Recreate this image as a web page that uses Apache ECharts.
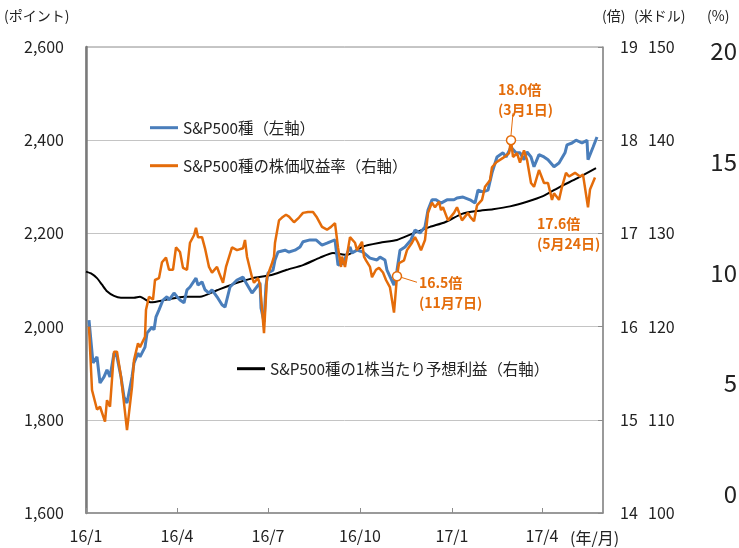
<!DOCTYPE html>
<html>
<head>
<meta charset="utf-8">
<script src="https://cdn.jsdelivr.net/npm/echarts@6/dist/echarts.min.js"></script>
<style>
  html, body { margin: 0; padding: 0; background: #fff; }
  #chart { width: 739px; height: 548px; }
</style>
</head>
<body>
<div id="chart"></div>
<script>
// S&P500 (左軸)
var spxDates = ['2016-01-04','2016-01-08','2016-01-12','2016-01-15','2016-01-19','2016-01-22','2016-01-25','2016-01-29',
  '2016-02-01','2016-02-05','2016-02-08','2016-02-11','2016-02-16','2016-02-18','2016-02-22','2016-02-24','2016-02-29',
  '2016-03-02','2016-03-07','2016-03-09','2016-03-11','2016-03-14','2016-03-18','2016-03-22','2016-03-24','2016-03-29',
  '2016-04-01','2016-04-04','2016-04-08','2016-04-11','2016-04-14','2016-04-20','2016-04-22','2016-04-26','2016-04-29',
  '2016-05-03','2016-05-06','2016-05-11','2016-05-16','2016-05-19','2016-05-24','2016-05-31',
  '2016-06-06','2016-06-09','2016-06-15','2016-06-17','2016-06-23','2016-06-24','2016-06-27','2016-06-29',
  '2016-07-01','2016-07-06','2016-07-08','2016-07-11','2016-07-18','2016-07-22','2016-07-28',
  '2016-08-02','2016-08-05','2016-08-12','2016-08-18','2016-08-24','2016-08-29',
  '2016-09-01','2016-09-06','2016-09-09','2016-09-14','2016-09-21','2016-09-23','2016-09-28',
  '2016-10-04','2016-10-11','2016-10-18','2016-10-21','2016-10-26','2016-10-28',
  '2016-11-04','2016-11-07','2016-11-10','2016-11-15','2016-11-21','2016-11-25','2016-11-30',
  '2016-12-05','2016-12-08','2016-12-12','2016-12-16','2016-12-21','2016-12-27',
  '2017-01-03','2017-01-06','2017-01-12','2017-01-19','2017-01-24','2017-01-27',
  '2017-02-01','2017-02-06','2017-02-10','2017-02-15','2017-02-21','2017-02-24',
  '2017-03-01','2017-03-06','2017-03-10','2017-03-14','2017-03-17','2017-03-21','2017-03-24','2017-03-29',
  '2017-04-03','2017-04-07','2017-04-13','2017-04-18','2017-04-24','2017-04-26',
  '2017-05-01','2017-05-05','2017-05-11','2017-05-16','2017-05-17','2017-05-22','2017-05-26'];
var spxValues = [2014,1922,1935,1879,1892,1907,1892,1943,
  1935,1892,1849,1836,1892,1922,1943,1935,1956,
  1986,1999,1993,2021,2036,2057,2064,2057,2072,
  2064,2057,2051,2079,2085,2104,2089,2096,2079,
  2072,2079,2064,2047,2042,2085,2100,
  2106,2094,2072,2072,2094,2040,2010,2089,
  2115,2121,2143,2160,2164,2160,2164,
  2171,2182,2186,2186,2175,2179,
  2182,2186,2132,2136,2171,2158,2164,
  2160,2147,2143,2149,2143,2121,
  2089,2121,2164,2171,2186,2207,2201,
  2214,2250,2272,2272,2265,2272,
  2272,2276,2278,2272,2265,2293,
  2289,2293,2330,2364,2373,2364,
  2385,2373,2373,2358,2375,2364,2343,2369,
  2364,2358,2343,2351,2373,2390,
  2394,2400,2394,2400,2358,2385,2407];

// 株価収益率 (倍, 右軸)
var perDates = ['2016-01-04','2016-01-07','2016-01-12','2016-01-15','2016-01-20','2016-01-22','2016-01-25','2016-01-29',
  '2016-02-01','2016-02-05','2016-02-08','2016-02-11','2016-02-16','2016-02-18','2016-02-22','2016-02-24','2016-02-29',
  '2016-03-01','2016-03-04','2016-03-08','2016-03-10','2016-03-14','2016-03-17','2016-03-21','2016-03-24','2016-03-28','2016-03-31',
  '2016-04-04','2016-04-07','2016-04-11','2016-04-14','2016-04-18','2016-04-20','2016-04-22','2016-04-26','2016-04-29',
  '2016-05-03','2016-05-06','2016-05-11','2016-05-13','2016-05-17','2016-05-20','2016-05-26','2016-05-31',
  '2016-06-06','2016-06-08','2016-06-10','2016-06-15','2016-06-17','2016-06-21','2016-06-23','2016-06-27','2016-06-30',
  '2016-07-05','2016-07-07','2016-07-08','2016-07-12','2016-07-15','2016-07-19','2016-07-22','2016-07-27',
  '2016-08-01','2016-08-05','2016-08-10','2016-08-15','2016-08-19','2016-08-24','2016-08-29',
  '2016-09-02','2016-09-06','2016-09-09','2016-09-12','2016-09-13','2016-09-16','2016-09-21','2016-09-26','2016-09-28',
  '2016-10-03','2016-10-05','2016-10-07','2016-10-11','2016-10-13','2016-10-17','2016-10-20','2016-10-24','2016-10-27','2016-10-31',
  '2016-11-04','2016-11-07','2016-11-09','2016-11-14','2016-11-17','2016-11-22','2016-11-25','2016-11-28',
  '2016-12-01','2016-12-05','2016-12-08','2016-12-12','2016-12-15','2016-12-19','2016-12-21','2016-12-23','2016-12-28',
  '2017-01-03','2017-01-06','2017-01-11','2017-01-17','2017-01-19','2017-01-23','2017-01-26','2017-01-31',
  '2017-02-03','2017-02-08','2017-02-10','2017-02-14','2017-02-21','2017-02-27',
  '2017-03-01','2017-03-03','2017-03-07','2017-03-10','2017-03-14','2017-03-17','2017-03-21','2017-03-24','2017-03-29',
  '2017-04-03','2017-04-07','2017-04-11','2017-04-13','2017-04-18','2017-04-21','2017-04-25','2017-04-28',
  '2017-05-04','2017-05-09','2017-05-12','2017-05-17','2017-05-19','2017-05-24'];
var perValues = [16.00,15.32,15.11,15.14,14.98,15.21,15.14,15.73,
  15.73,15.46,15.18,14.89,15.35,15.64,15.82,15.78,15.89,
  16.18,16.32,16.29,16.50,16.52,16.69,16.74,16.61,16.61,16.85,
  16.80,16.63,16.61,16.90,16.98,17.06,16.96,16.96,16.84,
  16.64,16.58,16.64,16.58,16.47,16.64,16.85,16.82,
  16.84,16.93,16.75,16.53,16.47,16.52,16.45,15.93,16.53,
  16.68,16.75,16.90,17.14,17.17,17.20,17.18,17.12,
  17.17,17.22,17.23,17.23,17.17,17.07,17.04,
  17.07,17.11,16.85,16.64,16.75,16.64,16.96,16.90,16.82,
  16.91,16.75,16.71,16.64,16.53,16.61,16.63,16.58,16.50,16.42,
  16.15,16.54,16.68,16.71,16.82,16.90,16.96,16.90,
  16.82,16.93,17.22,17.33,17.28,17.34,17.25,17.28,17.14,
  17.22,17.28,17.14,17.22,17.18,17.13,17.30,17.36,
  17.50,17.57,17.71,17.76,17.81,17.86,
  18.00,17.82,17.86,17.76,17.89,17.79,17.54,17.50,17.68,
  17.54,17.54,17.36,17.43,17.36,17.50,17.65,17.61,
  17.65,17.61,17.63,17.28,17.47,17.60];

// 1株当たり予想利益 (米ドル, 右軸)
var epsDates = ['2016-01-01','2016-01-06','2016-01-12','2016-01-17','2016-01-22','2016-01-29','2016-02-05','2016-02-18','2016-02-24','2016-03-06',
  '2016-03-22','2016-04-08','2016-04-24','2016-05-11','2016-05-31','2016-06-16','2016-07-03','2016-07-20',
  '2016-08-05','2016-08-22','2016-09-04','2016-09-18','2016-10-04','2016-10-21','2016-11-07','2016-11-23',
  '2016-12-10','2016-12-25','2017-01-11','2017-01-26','2017-02-11','2017-02-28','2017-03-17','2017-04-02',
  '2017-04-19','2017-05-06','2017-05-25'];
var epsValues = [125.9,125.7,125.2,124.5,123.8,123.3,123.1,123.1,123.2,122.6,
  122.9,123.2,123.2,123.9,124.7,125.2,125.5,126.1,
  126.6,127.4,127.9,127.7,128.6,129.0,129.3,130.0,
  130.7,131.2,132.1,132.4,132.6,132.9,133.4,134.0,
  135.0,135.9,137.0];

var xTickDates = ['2016-01-01','2016-04-01','2016-07-01','2016-10-01','2017-01-01','2017-04-01'];
var xStart = '2016-01-01', xEnd = '2017-06-01';
var pctTicks = [0, 5, 10, 15, 20];

// 注記
var notes = [
  { date: '2017-03-01', value: 18.0, text: '18.0倍\n(3月1日)', marker: true },
  { date: '2016-11-07', value: 16.54, text: '16.5倍\n(11月7日)', marker: true },
  { date: '2017-05-24', value: 17.6, text: '17.6倍\n(5月24日)', marker: false }
];

var FONT = '"Noto Sans CJK JP", "Noto Sans", sans-serif';
var BLUE = '#4A7EBB';
var ORANGE = '#E46C0A';

function ts(s) {
  var p = s.split('-');
  return new Date(+p[0], +p[1] - 1, +p[2]).getTime();
}
function pairs(d, v) {
  return d.map(function (x, i) { return [ts(x), v[i]]; });
}

var chart = echarts.init(document.getElementById('chart'));

var option = {
  animation: false,
  textStyle: { fontFamily: FONT },
  grid: [
    { left: 86, right: 136, top: 47, bottom: 35, show: true, borderColor: '#8c8c8c', borderWidth: 1 },
    { left: 737, width: 1, top: 51, bottom: 54 }
  ],
  legend: [
    { data: ['S&P500種（左軸）'], left: 145, top: 115 },
    { data: ['S&P500種の株価収益率（右軸）'], left: 145, top: 153 },
    { data: ['S&P500種の1株当たり予想利益（右軸）'], left: 232, top: 356 }
  ].map(function (l) {
    return Object.assign(l, {
      icon: 'rect', itemWidth: 28, itemHeight: 3, selectedMode: false,
      textStyle: { fontFamily: FONT, fontSize: 15.4, color: '#222' }
    });
  }),
  xAxis: [
    {
      type: 'value', gridIndex: 0,
      min: ts(xStart), max: ts(xEnd),
      axisLine: { lineStyle: { color: '#8c8c8c', width: 1.5 } },
      axisTick: { inside: true, length: 5, lineStyle: { color: '#8c8c8c' }, customValues: xTickDates.map(ts) },
      axisLabel: {
        customValues: xTickDates.map(ts),
        fontFamily: FONT, fontSize: 16, color: '#222', margin: 15,
        formatter: function (v) {
          var d = new Date(v);
          return String(d.getFullYear()).slice(2) + '/' + (d.getMonth() + 1);
        }
      },
      splitLine: { show: false }
    },
    { type: 'value', gridIndex: 1, show: false }
  ],
  yAxis: [
    {
      type: 'value', gridIndex: 0, min: 1600, max: 2600, interval: 200,
      axisLine: { show: true, lineStyle: { color: '#7a7a7a', width: 2.5 } },
      axisTick: { show: false },
      axisLabel: {
        fontFamily: FONT, fontSize: 16, color: '#222', margin: 22,
        formatter: function (v) { return v.toLocaleString('en-US'); }
      },
      splitLine: { lineStyle: { color: '#c4c4c4', width: 1 } }
    },
    {
      type: 'value', gridIndex: 0, position: 'right', min: 14, max: 19, interval: 1,
      axisLine: { show: true, lineStyle: { color: '#8c8c8c', width: 1.5 } },
      axisTick: { show: true, inside: true, length: 5, lineStyle: { color: '#8c8c8c' } },
      axisLabel: { fontFamily: FONT, fontSize: 16, color: '#222', margin: 17 },
      splitLine: { show: false }
    },
    {
      type: 'value', gridIndex: 0, position: 'right', offset: 28, min: 100, max: 150, interval: 10,
      axisLine: { show: false }, axisTick: { show: false },
      axisLabel: { fontFamily: FONT, fontSize: 16, color: '#222', margin: 17 },
      splitLine: { show: false }
    },
    {
      type: 'value', gridIndex: 1, position: 'left', min: pctTicks[0], max: pctTicks[pctTicks.length - 1], interval: 5,
      axisLine: { show: false }, axisTick: { show: false }, splitLine: { show: false },
      axisLabel: { fontFamily: FONT, fontSize: 24, color: '#222', margin: 0 }
    }
  ],
  series: [
    {
      name: 'S&P500種の1株当たり予想利益（右軸）', type: 'line', xAxisIndex: 0, yAxisIndex: 2,
      data: pairs(epsDates, epsValues), showSymbol: false, smooth: 0.2,
      lineStyle: { color: '#000', width: 2 }, itemStyle: { color: '#000' }
    },
    {
      name: 'S&P500種（左軸）', type: 'line', xAxisIndex: 0, yAxisIndex: 0,
      data: pairs(spxDates, spxValues), showSymbol: false,
      lineStyle: { color: BLUE, width: 3 }, itemStyle: { color: BLUE }
    },
    {
      name: 'S&P500種の株価収益率（右軸）', type: 'line', xAxisIndex: 0, yAxisIndex: 1,
      data: pairs(perDates, perValues), showSymbol: false,
      lineStyle: { color: ORANGE, width: 2.5 }, itemStyle: { color: ORANGE },
      markPoint: {
        symbol: 'circle', symbolSize: 9, silent: true,
        itemStyle: { color: '#fff', borderColor: ORANGE, borderWidth: 1.5 },
        label: { show: false },
        data: notes.filter(function (n) { return n.marker; }).map(function (n) {
          return { coord: [ts(n.date), n.value] };
        })
      }
    },
    { type: 'line', xAxisIndex: 1, yAxisIndex: 3, data: [] }
  ]
};

chart.setOption(option);

// 注記の文字と引き出し線
var g = [
  { type: 'text', left: 4, top: 9, style: { text: '(ポイント)', font: '14px ' + FONT, fill: '#222' } },
  { type: 'text', left: 602, top: 9, style: { text: '(倍)', font: '14px ' + FONT, fill: '#222' } },
  { type: 'text', left: 634, top: 9, style: { text: '(米ドル)', font: '14px ' + FONT, fill: '#222' } },
  { type: 'text', left: 707, top: 9, style: { text: '(%)', font: '14px ' + FONT, fill: '#222' } },
  { type: 'text', left: 570, top: 530, style: { text: '(年/月)', font: '16px ' + FONT, fill: '#222' } }
];
var offsets = [[-13, -61, 2, -27], [22, -4, 20, 6], [-58, 36, null, null]];
notes.forEach(function (n, i) {
  var p = chart.convertToPixel({ xAxisIndex: 0, yAxisIndex: 1 }, [ts(n.date), n.value]);
  var o = offsets[i];
  g.push({
    type: 'text', x: p[0] + o[0], y: p[1] + o[1],
    style: { text: n.text, font: 'bold 14px ' + FONT, fill: ORANGE, lineHeight: 20 }
  });
  if (o[2] !== null) {
    g.push({
      type: 'line', z: 1,
      shape: { x1: p[0] + (i === 0 ? 0 : 4), y1: p[1] + (i === 0 ? -5 : 1), x2: p[0] + o[2], y2: p[1] + o[3] },
      style: { stroke: ORANGE, lineWidth: 1 }
    });
  }
});
chart.setOption({ graphic: g });
</script>
</body>
</html>
